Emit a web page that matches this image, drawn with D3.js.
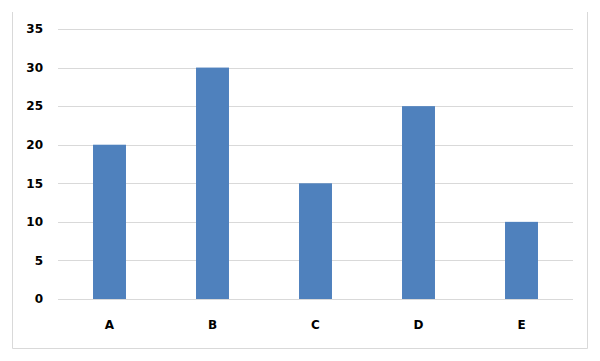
<!DOCTYPE html>
<html>
<head>
<meta charset="utf-8">
<script src="https://cdn.jsdelivr.net/npm/d3@7"></script>
<style>
  html, body { margin: 0; padding: 0; background: #ffffff; }
  svg { display: block; }
</style>
</head>
<body>
<svg id="chart" width="600" height="361"></svg>
<script>
// chart data
const categories = ["A", "B", "C", "D", "E"];
const values = [20, 30, 15, 25, 10];
const yTicks = [0, 5, 10, 15, 20, 25, 30, 35];

let margin = {top: 29, right: 27, bottom: 62, left: 58},
    width = 600 - margin.left - margin.right,
    height = 361 - margin.top - margin.bottom;

let svg = d3.select("#chart");

// outer frame (left, bottom, right edges show in the picture)
svg.append("path")
    .attr("d", "M12.5,12 V348.5 H587.5 V12")
    .style("fill", "none")
    .style("stroke", "#d9d9d9")
    .style("stroke-width", 1);

let figure = svg.append("g")
    .attr("transform", "translate(" + margin.left + "," + margin.top + ")");

let x = d3.scaleBand().domain(categories).range([0, width]).paddingInner(0.68).paddingOuter(0.34);
let y = d3.scaleLinear().domain([0, 35]).range([height, 0]);

// gridlines
figure.append("g")
    .selectAll("line")
    .data(yTicks)
    .enter()
    .append("line")
    .attr("x1", 0)
    .attr("x2", width)
    .attr("y1", d => Math.round(y(d)) + 0.5)
    .attr("y2", d => Math.round(y(d)) + 0.5)
    .style("stroke", "#d9d9d9")
    .style("stroke-width", 1);

// bars
figure.append("g")
    .selectAll("rect")
    .data(values)
    .enter()
    .append("rect")
    .attr("x", (d, i) => x(categories[i]))
    .attr("y", d => y(d))
    .attr("width", x.bandwidth())
    .attr("height", d => height - y(d))
    .style("fill", "#4f81bd");

// y axis labels
let yAxis = figure.append("g")
    .call(d3.axisLeft(y).tickValues(yTicks).tickSize(0).tickPadding(15));
yAxis.select(".domain").remove();
yAxis.selectAll("text")
    .style("font-family", "'DejaVu Sans', sans-serif")
    .style("font-weight", "bold")
    .style("font-size", "12px")
    .style("fill", "#000");

// x axis labels
let xAxis = figure.append("g")
    .attr("transform", "translate(0," + height + ")")
    .call(d3.axisBottom(x).tickSize(0).tickPadding(21));
xAxis.select(".domain").remove();
xAxis.selectAll("text")
    .style("font-family", "'DejaVu Sans', sans-serif")
    .style("font-weight", "bold")
    .style("font-size", "12px")
    .style("fill", "#000");
</script>
</body>
</html>
